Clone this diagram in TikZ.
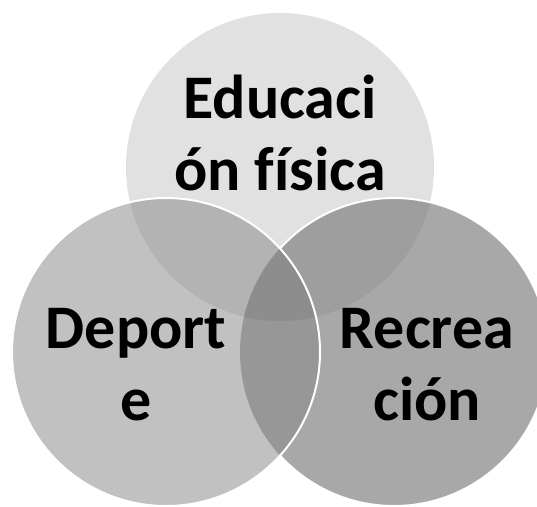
\documentclass[tikz,border=0pt]{standalone}
\usepackage{fontspec}
\setmainfont{Carlito}[Ligatures=NoCommon]
\usepackage{xcolor}
\usetikzlibrary{positioning, calc}
\definecolor{topgray}{HTML}{E1E1E1}
\definecolor{leftgray}{HTML}{C1C1C1}
\definecolor{rightgray}{HTML}{A8A8A8}
\definecolor{tlgray}{HTML}{B3B3B3}
\definecolor{trgray}{HTML}{9E9E9E}
\definecolor{lrgray}{HTML}{979797}
\definecolor{allgray}{HTML}{8D8D8D}
\tikzset{
    ring/.style={draw=white, line width=2pt},
    lbl/.style={align=center, font=\fontsize{62}{72}\selectfont\bfseries, inner sep=0pt}
}

\begin{document}
\begin{tikzpicture}[x=1pt, y=-1pt]
    \useasboundingbox (0,0) rectangle (537,506);
    \def\rad{154}
    \coordinate (ef) at (280,167);
    \coordinate (dep) at (166,352);
    \coordinate (rec) at (394,352);

    \fill[topgray] (ef) circle (\rad);
    \fill[rightgray] (rec) circle (\rad);
    \begin{scope}
        \clip (rec) circle (\rad);
        \fill[trgray] (ef) circle (\rad);
    \end{scope}
    \draw[ring] (rec) circle (\rad);

    \fill[leftgray] (dep) circle (\rad);
    \begin{scope}
        \clip (dep) circle (\rad);
        \fill[tlgray] (ef) circle (\rad);
        \clip (rec) circle (\rad);
        \fill[lrgray] (rec) circle (\rad);
        \clip (ef) circle (\rad);
        \fill[allgray] (ef) circle (\rad);
    \end{scope}
    \draw[ring] (dep) circle (\rad);

    \node[lbl] (educ) at (280,133) {Educaci\\ón física};
    \node[lbl] (depo) at (136,365) {Deport\\e};
    \node[lbl] (recr) at (427,365) {Recrea\\ción};
\end{tikzpicture}
\end{document}
